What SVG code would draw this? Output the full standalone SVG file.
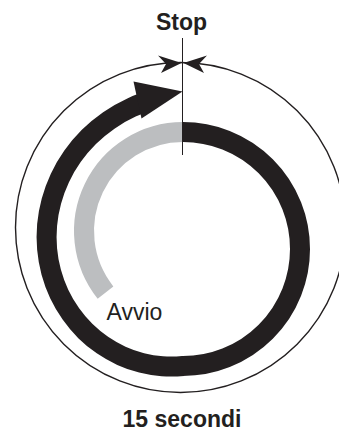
<svg xmlns="http://www.w3.org/2000/svg" width="339" height="432" viewBox="0 0 339 432">
<style>
.lbl{font-family:"Liberation Sans",Arial,sans-serif;fill:#231f20}
.b{font-weight:bold}
.thin{fill:none;stroke:#231f20;stroke-width:1.4}
.band{fill:none;stroke:#231f20;stroke-width:20;stroke-linecap:butt}
.grey{fill:none;stroke:#bcbec0;stroke-width:20;stroke-linecap:butt}
.head{fill:#231f20}
</style>
<rect width="339" height="432" fill="#ffffff"/>
<g id="outer-cycle">
<circle class="thin" cx="180.5" cy="227.5" r="165"/>
<polygon class="head" points="181.5,63 158,55.5 166,64 161,73"/>
<polygon class="head" points="183.5,63 207,55.5 199,64 204,73"/>
</g>
<g id="start-arc">
<path class="grey" d="M183,132 A99,99 0 0 0 105.5,292.6"/>
</g>
<g id="run-arrow">
<path class="band" d="M183,132 A117,117 0 0 1 300,249 A117,117 0 0 1 183,366 A118,118 0 0 1 162.3,366.3 A120.2,120.2 0 0 1 141.6,362.9 A122.3,122.3 0 0 1 121.4,355.8 A124.4,124.4 0 0 1 102.4,345.1 A126.5,126.5 0 0 1 85.3,331 A128.6,128.6 0 0 1 70.8,313.8 A130.7,130.7 0 0 1 59.2,294 A132.8,132.8 0 0 1 51.2,272.2 A134.9,134.9 0 0 1 47.1,249 A137,137 0 0 1 47.1,225 A139,139 0 0 1 51.4,201.1 A141.2,141.2 0 0 1 59.9,177.9 A143.3,143.3 0 0 1 72.5,156.3 A145.4,145.4 0 0 1 88.9,136.9 A147.5,147.5 0 0 1 108.8,120.4 A149.6,149.6 0 0 1 131.5,107.5 A151.1,151.1 0 0 1 143.8,102.5"/>
<polygon class="head" points="133.5,81.5 182.5,91.5 141.5,118.5"/>
</g>
<g id="connectors">
<line x1="182.5" y1="38" x2="182.5" y2="155" stroke="#231f20" stroke-width="1"/>
</g>
<g id="labels">
<text class="lbl b" x="181.5" y="29.5" font-size="23" text-anchor="middle">Stop</text>
<text class="lbl" x="106.5" y="320" font-size="23">Avvio</text>
<text class="lbl b" x="182" y="427" font-size="23" text-anchor="middle">15 secondi</text>
</g>
</svg>
